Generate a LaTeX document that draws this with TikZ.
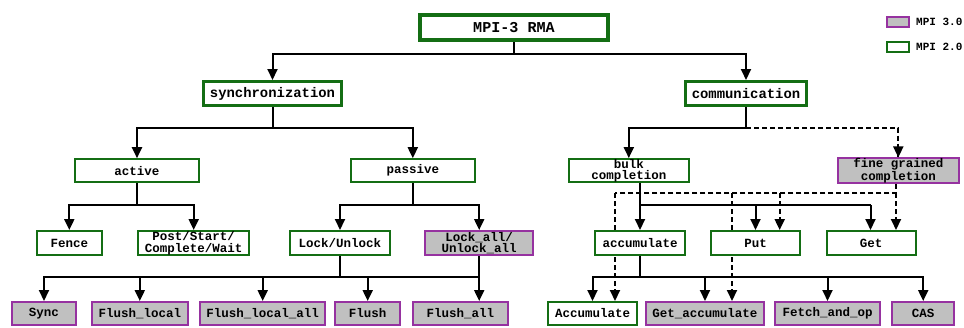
\documentclass[tikz,border=0pt]{standalone}
\usepackage{fontspec}
\setmainfont{Liberation Mono}
\usetikzlibrary{arrows.meta,backgrounds}
\definecolor{mgreen}{RGB}{20,110,20}
\definecolor{mpurple}{RGB}{150,50,160}
\definecolor{mgray}{RGB}{192,192,192}
\tikzset{
  box/.style={draw=mgreen, fill=white, line width=2pt, inner sep=0pt,
    font=\fontsize{12.5}{11.6}\selectfont\bfseries, align=center},
  newbox/.style={box, draw=mpurple, fill=mgray},
  topbox/.style={box, line width=3pt, font=\fontsize{13.9}{15}\selectfont\bfseries},
  rootbox/.style={box, line width=4pt, font=\fontsize{15.1}{16}\selectfont\bfseries},
  conn/.style={line width=2pt, draw=black},
  arr/.style={conn, -{Triangle[length=11pt,width=10pt]}},
  dsh/.style={dash pattern=on 5pt off 3pt},
  legbox/.style={line width=2pt, inner sep=0pt, minimum width=22pt, minimum height=10pt},
  legtext/.style={font=\fontsize{11}{12}\selectfont\bfseries, anchor=west, inner sep=0pt},
}
\begin{document}
\begin{tikzpicture}[x=1pt,y=-1pt]
\useasboundingbox (0,0) rectangle (964,327);
% level 0 / 1
\node[rootbox, minimum width=188pt, minimum height=25pt] (root) at (514,27.5) {MPI-3 RMA};
\node[topbox, minimum width=138pt, minimum height=24pt] (sync) at (272.5,93.5) {synchronization};
\node[topbox, minimum width=121pt, minimum height=24pt] (comm) at (746,93.5) {communication};
% level 2
\node[box, minimum width=124pt, minimum height=23pt] (active) at (137,170.7) {active};
\node[box, minimum width=124pt, minimum height=23pt] (passive) at (412.8,170.7) {passive};
\node[box, minimum width=120.5pt, minimum height=23pt] (bulk) at (628.8,170.7) {bulk\\completion};
\node[newbox, minimum width=121.3pt, minimum height=23pt] (fine) at (898.3,170.7) {fine grained\\completion};
% level 3
\node[box, minimum width=64.7pt, minimum height=24pt] (fence) at (69.3,243) {Fence};
\node[box, minimum width=110.7pt, minimum height=24pt] (pscw) at (193.7,243) {Post/Start/\\Complete/Wait};
\node[box, minimum width=99.4pt, minimum height=24pt] (lock) at (340,243) {Lock/Unlock};
\node[newbox, minimum width=107.7pt, minimum height=24pt] (lockall) at (479.2,243) {Lock\_all/\\Unlock\_all};
\node[box, minimum width=89.4pt, minimum height=24pt] (accum) at (640,243) {accumulate};
\node[box, minimum width=89pt, minimum height=24pt] (put) at (755.5,243) {Put};
\node[box, minimum width=89pt, minimum height=24pt] (get) at (871.2,243) {Get};
% level 4
\node[newbox, minimum width=64.6pt, minimum height=23pt] (syncop) at (44,313.5) {Sync};
\node[newbox, minimum width=96.3pt, minimum height=23pt] (flocal) at (139.8,313.5) {Flush\_local};
\node[newbox, minimum width=124.7pt, minimum height=23pt] (flocalall) at (262.7,313.5) {Flush\_local\_all};
\node[newbox, minimum width=64.7pt, minimum height=23pt] (flush) at (367.7,313.5) {Flush};
\node[newbox, minimum width=94.4pt, minimum height=23pt] (flushall) at (460.5,313.5) {Flush\_all};
\node[box, minimum width=88.4pt, minimum height=23pt] (Accum) at (592.5,313.5) {Accumulate};
\node[newbox, minimum width=117.4pt, minimum height=23pt] (getacc) at (705,313.5) {Get\_accumulate};
\node[newbox, minimum width=105.6pt, minimum height=23pt] (fetch) at (827.5,313.5) {Fetch\_and\_op};
\node[newbox, minimum width=62.3pt, minimum height=23pt] (cas) at (923.2,313.5) {CAS};
% legend
\node[legbox, draw=mpurple, fill=mgray] (leg3) at (898,21.5) {};
\node[legtext] (leg3t) at (916,21.5) {MPI 3.0};
\node[legbox, draw=mgreen, fill=white] (leg2) at (898,47) {};
\node[legtext] (leg2t) at (916,47) {MPI 2.0};
% junction coordinates
\coordinate (j0) at (514,54);
\coordinate (js) at (272.5,128);
\coordinate (jc) at (746,128);
\coordinate (ja) at (137,205);
\coordinate (jp) at (412.8,205);
\coordinate (jl) at (340,277);
\coordinate (jla) at (479.2,277);
\coordinate (jb) at (640,205);
\coordinate (jg) at (870.5,205);
\coordinate (jq) at (640,277);
\coordinate (fd) at (896,193.3);
\coordinate (fa) at (615,193.3);
\coordinate (fp) at (732,193.3);
\coordinate (fq) at (779.7,193.3);
% root
\draw[conn] (root.south) -- (j0);
\draw[arr] (j0) -| (sync.north);
\draw[arr] (j0) -| (comm.north);
% synchronization
\draw[conn] (sync.south) -- (js);
\draw[arr] (js) -| (active.north);
\draw[arr] (js) -| (passive.north);
% active
\draw[conn] (active.south) -- (ja);
\draw[arr] (ja) -| (fence.north);
\draw[arr] (ja) -| (pscw.north);
% passive
\draw[conn] (passive.south) -- (jp);
\draw[arr] (jp) -| (lock.north);
\draw[arr] (jp) -| (lockall.north);
% lock/unlock
\draw[conn] (lock.south) -- (jl) -- (jla);
\draw[arr] (jl) -| (syncop.north);
\draw[arr] (jl) -| (flocal.north);
\draw[arr] (jl) -| (flocalall.north);
\draw[arr] (jl) -| (flush.north);
\draw[arr] (lockall.south) -- (lockall.south |- flushall.north);
% communication
\draw[conn] (comm.south) -- (jc);
\draw[arr] (jc) -| (bulk.north);
\draw[conn,dsh] (jc) -| (fine.north);
\draw[arr,dsh] (jc -| fine.north) -- (fine.north);
% fine grained (dashed)
\draw[conn,dsh] (fine.south -| fd) -- (fd) -- (fa);
\draw[arr,dsh] (fq) -- (fq |- put.north);
\draw[arr,dsh] (fd) -- (fd |- get.north);
\begin{pgfonlayer}{background}
\draw[arr,dsh] (fa) -- (fa |- Accum.north);
\draw[arr,dsh] (fp) -- (fp |- getacc.north);
\end{pgfonlayer}
% bulk
\draw[arr] (bulk.south -| jb) -- (accum.north);
\draw[conn] (jb) -- (jg);
\draw[arr] (jb) -| (put.north);
\draw[arr] (jg) -- (jg |- get.north);
% accumulate
\draw[conn] (accum.south) -- (jq);
\draw[arr] (jq) -| (Accum.north);
\draw[arr] (jq) -| (getacc.north);
\draw[arr] (jq) -| (fetch.north);
\draw[arr] (jq) -| (cas.north);
\end{tikzpicture}
\end{document}
